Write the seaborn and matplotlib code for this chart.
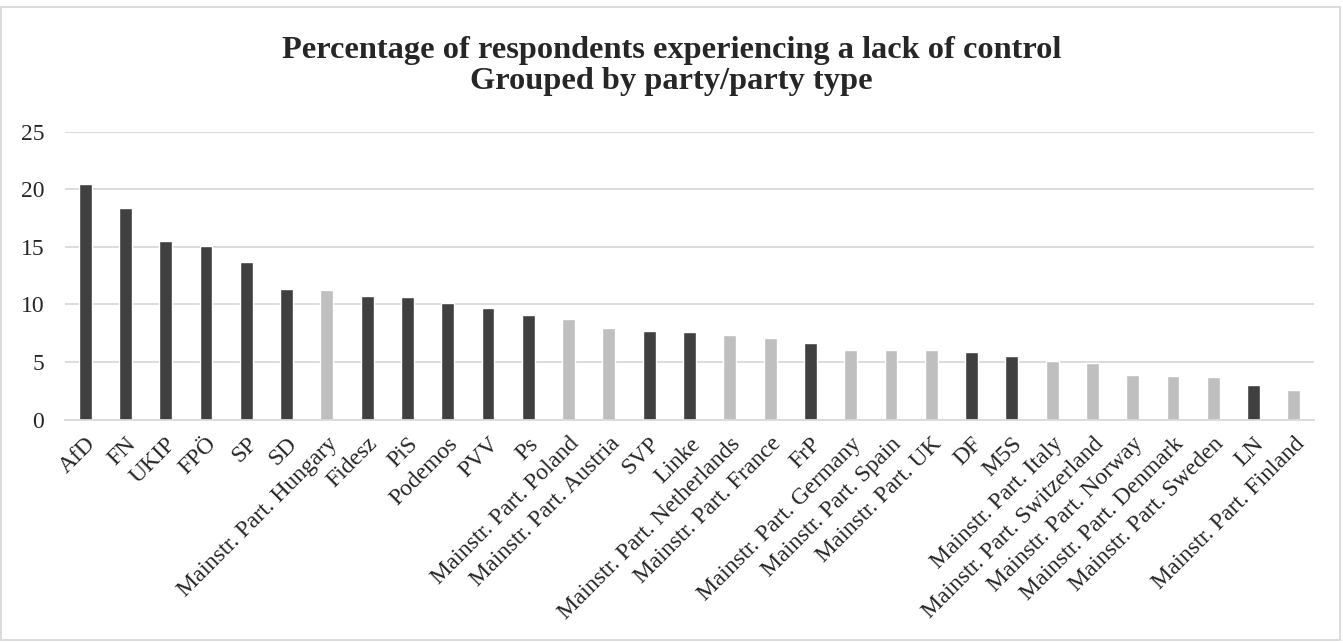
import matplotlib
matplotlib.use("Agg")
import matplotlib.pyplot as plt
import seaborn as sns
import pandas as pd
from matplotlib.patches import Rectangle

parties = ["AfD", "FN", "UKIP", "FPÖ", "SP", "SD", "Mainstr. Part. Hungary", "Fidesz", "PiS",
           "Podemos", "PVV", "Ps", "Mainstr. Part. Poland", "Mainstr. Part. Austria", "SVP", "Linke",
           "Mainstr. Part. Netherlands", "Mainstr. Part. France", "FrP", "Mainstr. Part. Germany",
           "Mainstr. Part. Spain", "Mainstr. Part. UK", "DF", "M5S", "Mainstr. Part. Italy",
           "Mainstr. Part. Switzerland", "Mainstr. Part. Norway", "Mainstr. Part. Denmark",
           "Mainstr. Part. Sweden", "LN", "Mainstr. Part. Finland"]
values = [20.4, 18.4, 15.5, 15.1, 13.7, 11.3, 11.2, 10.7, 10.6,
          10.1, 9.7, 9.1, 8.7, 7.9, 7.7, 7.6,
          7.3, 7.1, 6.6, 6.0,
          6.0, 6.0, 5.9, 5.5, 5.1,
          4.9, 3.9, 3.8,
          3.7, 3.0, 2.6]
party_type = ["Mainstream" if p.startswith("Mainstr.") else "Populist" for p in parties]
yticks = [0, 5, 10, 15, 20, 25]
title = "Percentage of respondents experiencing a lack of control\nGrouped by party/party type"

df = pd.DataFrame({"party": parties, "value": values, "type": party_type})

sns.set_theme(style="white")
plt.rcParams["font.family"] = ["Liberation Serif", "DejaVu Serif"]

fig = plt.figure(figsize=(13.43, 6.43), dpi=100)
ax = fig.add_axes([65 / 1343, 1 - 419.5 / 643, (1314 - 65) / 1343, 288 / 643])

sns.barplot(data=df, x="party", y="value", hue="type", dodge=False,
            palette={"Populist": "#404040", "Mainstream": "#bfbfbf"},
            width=0.32, ax=ax, legend=False, saturation=1)

ax.set_ylim(0, 25)
ax.set_xlim(-0.5, len(parties) - 0.5)
ax.set_yticks(yticks)
ax.set_yticklabels([str(t) for t in yticks], fontsize=17)
ax.yaxis.grid(True, color="#d9d9d9", linewidth=1.3)
ax.set_axisbelow(True)
for s in ["top", "right", "left"]:
    ax.spines[s].set_visible(False)
ax.spines["bottom"].set_color("#d9d9d9")
ax.spines["bottom"].set_linewidth(1.3)
ax.tick_params(axis="y", length=0, pad=15)
ax.tick_params(axis="x", length=0, pad=10)
ax.set_xticks(range(len(parties)))
ax.set_xticklabels(parties, rotation=45, ha="right", rotation_mode="anchor", fontsize=17)
ax.set_xlabel("")
ax.set_ylabel("")

fig.text(0.5, 1 - 66 / 643, title, ha="center", va="center", fontsize=23.3,
         fontweight="bold", linespacing=1.05)

fig.patches.append(Rectangle((1 / 1343, 1 - 640 / 643), 1339 / 1343, 633 / 643,
                             transform=fig.transFigure, fill=False,
                             edgecolor="#d9d9d9", linewidth=1.3))

fig.savefig("out.png", dpi=100)
